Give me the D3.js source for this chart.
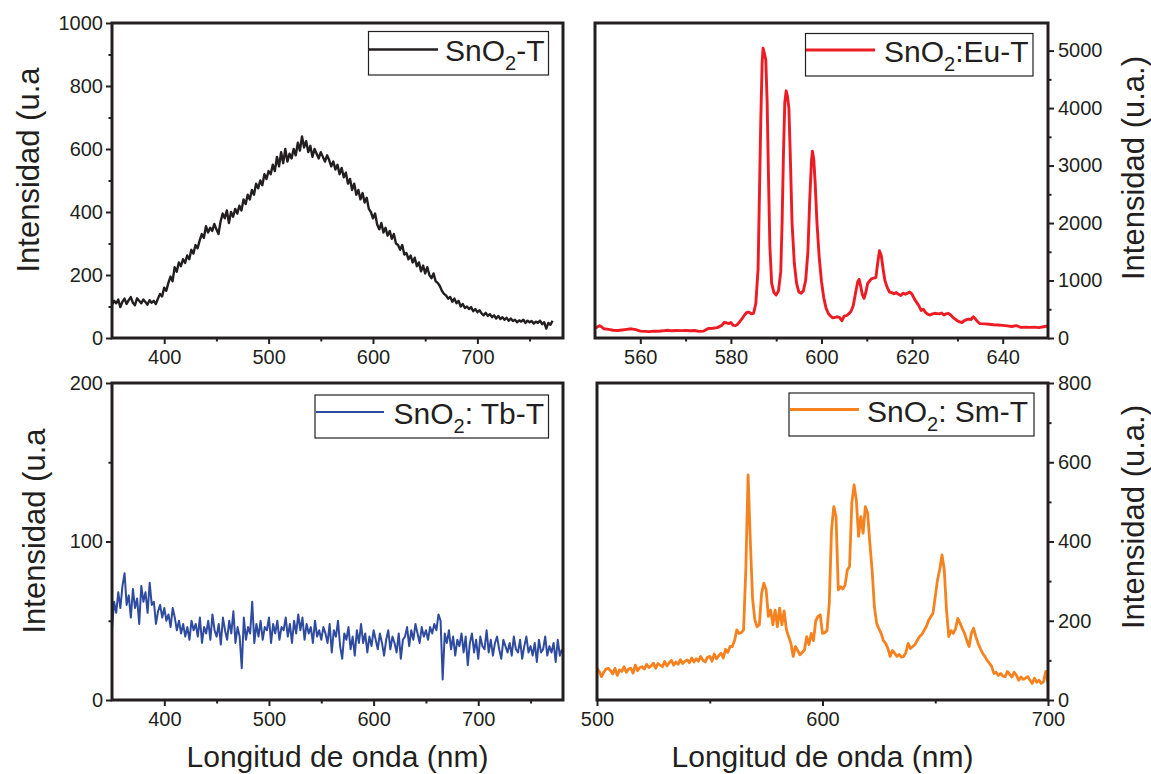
<!DOCTYPE html>
<html><head><meta charset="utf-8">
<script src="https://cdn.jsdelivr.net/npm/d3@7"></script>
<style>
body{margin:0;background:#fff;}
svg text{font-family:"Liberation Sans",Arial,Helvetica,sans-serif;fill:#231f20;}
</style></head><body>
<svg id="chart" width="1151" height="774"></svg>
<script>
// ---------------- DATA ----------------
// SnO2-T (350..772 nm, 2 nm step)
const tStart = 350, tStep = 2;
const sno2T = [
105,118,110,122,98,115,125,108,120,130,
112,104,126,118,110,122,114,106,120,112,
118,108,125,140,132,160,150,175,195,180,
225,210,240,228,250,238,262,250,280,268,
295,285,310,330,318,355,335,350,340,362,
345,330,370,395,380,405,365,400,385,410,
395,420,405,440,425,455,440,470,455,490,
475,500,485,520,505,530,520,550,530,575,
545,590,555,600,560,585,570,600,580,620,
595,640,605,625,590,610,575,600,585,570,
590,575,560,580,565,545,560,535,550,520,
540,510,525,490,505,470,490,455,470,440,
460,430,445,410,400,380,395,360,345,365,
335,350,325,340,315,330,300,295,280,295,
265,270,250,262,240,255,228,240,212,230,
205,225,200,190,205,180,175,165,150,140,
135,125,130,115,125,110,118,100,108,95,
100,92,98,85,92,82,88,78,72,80,
70,76,66,72,62,70,60,66,58,64,
55,62,54,58,50,56,52,58,48,55,
50,54,46,52,48,55,44,50,30,48,
42,55];

// SnO2:Eu-T
const euWavelength = [
550,550.5,551,551.5,552,553,554,555,556,557,
558,559,560,561,562,563,564,565,566,567,
568,569,570,571,572,573,574,575,576,577,
578,578.5,579,579.5,580,580.5,581,581.5,582,582.5,
583,583.5,584,584.5,585,585.5,586,586.3,586.6,586.9,
587.1,587.4,587.7,588,588.3,588.6,589,589.5,590,590.5,
591,591.3,591.6,591.9,592.2,592.5,592.8,593.1,593.5,594,
594.5,595,595.5,596,596.5,597,597.4,597.8,598,598.3,
598.6,599,599.5,600,600.5,601,601.5,602,602.5,603,
603.5,604,604.5,605,605.5,606,606.5,607,607.5,608,
608.3,608.6,609,609.4,609.8,610.2,610.6,611,611.5,612,
612.4,612.8,613.2,613.6,614,614.5,615,615.5,616,616.5,
617,617.5,618,618.5,619,619.5,620,620.5,621,621.5,
622,622.5,623,623.5,624,624.5,625,625.5,626,626.5,
627,627.5,628,628.5,629,629.5,630,630.5,631,631.5,
632,632.5,633,633.5,634,634.5,635,636,637,638,
639,640,641,642,643,643.5,644,645,646,647,
648,649,650];
const euIntensity = [
175,190,215,190,160,150,135,130,140,150,
160,145,120,115,110,120,118,125,135,125,
130,128,132,125,130,115,120,165,170,180,
220,270,265,250,270,220,215,240,290,340,
400,445,450,420,430,600,1200,2500,3800,4800,
5040,4950,4840,4100,2800,1600,950,790,750,820,
1150,2000,3200,4100,4300,4200,4000,3200,2000,1300,
950,800,780,820,1000,1500,2400,3100,3250,3100,
2700,2000,1400,980,700,520,430,380,350,360,
370,355,300,380,390,420,460,560,780,980,
1020,920,760,690,800,950,990,1030,1040,1050,
1300,1520,1430,1200,1000,880,800,790,770,790,
760,740,780,760,780,800,760,680,620,560,
480,500,440,410,400,420,430,425,420,435,
400,420,430,400,360,330,300,280,270,300,
320,330,320,370,330,280,250,245,240,230,
225,220,210,200,215,200,185,190,185,190,
180,195,210];

// SnO2:Tb-T (350..780 nm, 2 nm step)
const tbStart = 350, tbStep = 2;
const sno2Tb = [
45,62,55,68,58,72,80,60,66,52,
70,58,64,48,72,62,68,55,74,60,
62,48,56,60,52,58,50,54,46,58,
52,44,50,42,48,40,46,38,50,44,
48,40,52,36,46,42,50,38,54,44,
40,48,35,52,44,38,50,42,56,36,
46,40,20,52,38,46,42,62,36,48,
40,50,38,46,44,52,36,48,42,50,
38,46,44,52,40,48,36,50,42,54,
44,52,38,48,42,46,36,50,40,44,
38,46,42,36,48,30,44,40,50,34,
26,42,38,46,32,40,28,44,36,48,
36,42,30,40,34,44,38,32,42,36,
28,38,44,32,40,36,30,42,26,38,
40,46,34,44,38,48,42,36,46,40,
44,38,46,42,48,44,54,50,13,42,
36,44,32,40,28,38,34,42,30,40,
22,36,42,30,38,26,40,34,32,44,
30,38,28,36,40,32,26,38,34,30,
36,28,40,32,30,38,26,34,40,30,
34,28,36,24,38,30,32,40,28,34,
30,36,24,38,28,32];

// SnO2:Sm-T (500..700 nm, 1 nm step)
const smStart = 500, smStep = 1;
const sno2Sm = [
80,72,59,70,78,80,74,66,80,62,
76,72,84,70,78,80,68,88,74,82,
84,78,90,82,86,93,80,92,88,84,
97,86,94,100,88,96,90,102,92,98,
101,94,106,96,104,98,110,100,96,108,
110,98,116,104,112,118,106,128,120,135,
135,150,177,168,170,177,330,568,400,255,
202,185,190,269,295,278,211,227,190,227,
185,232,190,225,177,160,143,110,135,125,
114,120,126,160,140,168,150,200,211,215,
168,170,175,244,429,488,463,278,286,280,
290,328,337,497,543,505,413,463,421,488,
472,396,328,236,194,180,168,150,143,130,
110,125,118,110,115,108,110,120,143,130,
135,140,150,160,165,175,185,200,210,219,
261,303,330,366,328,227,160,175,168,180,
206,194,180,168,150,135,168,181,160,143,
130,118,110,100,93,85,67,70,62,67,
60,59,72,65,58,70,62,50,58,52,
55,59,50,42,55,45,50,42,46,72,
42];

// tick values
const p1XMajor = [400,500,600,700], p1XMinor = [450,550,650,750];
const p1YMajor = [0,200,400,600,800,1000], p1YMinor = [100,300,500,700,900];
const p2XMajor = [560,580,600,620,640], p2XMinor = [570,590,610,630];
const p2YMajor = [0,1000,2000,3000,4000,5000], p2YMinor = [500,1500,2500,3500,4500];
const p3XMajor = [400,500,600,700], p3XMinor = [450,550,650,750];
const p3YMajor = [0,100,200], p3YMinor = [50,150];
const p4XMajor = [500,600,700], p4XMinor = [550,650];
const p4YMajor = [0,200,400,600,800], p4YMinor = [100,300,500,700];

// legend names (main, subscript, rest)
const legendNames = [["SnO","2","-T"],["SnO","2",":Eu-T"],["SnO","2",": Tb-T"],["SnO","2",": Sm-T"]];
const xTitle = "Longitud de onda (nm)";
const yTitleLeft = "Intensidad (u.a";
const yTitleRight = "Intensidad (u.a.)";

// ---------------- DRAW ----------------
const ink = "#231f20";
const svg = d3.select("#chart");

const panels = [
 {id:1, data: sno2T.map((v,i)=>[tStart+i*tStep, v]), color:"#231f20", lw:2.4,
  left:112, right:563, top:23, bottom:338, xDomain:[350,782], yDomain:[0,1000],
  xMajor:p1XMajor, xMinor:p1XMinor, yMajor:p1YMajor, yMinor:p1YMinor, ySide:"left",
  legend:{x0:368.5,x1:548.5,y0:31.5,y1:75,lineY:49.5,lx0:369,lx1:438,tx:445,ty:61},
  name:legendNames[0], yTitle:yTitleLeft, yTitleX:28, yTitleY:170, xTitleShow:false},
 {id:2, data: euWavelength.map((w,i)=>[w, euIntensity[i]]), color:"#ed1c24", lw:2.9,
  left:595, right:1048, top:23, bottom:338, xDomain:[550,650], yDomain:[0,5480],
  xMajor:p2XMajor, xMinor:p2XMinor, yMajor:p2YMajor, yMinor:p2YMinor, ySide:"right",
  legend:{x0:805.5,x1:1033,y0:33.5,y1:76,lineY:50,lx0:806,lx1:875,tx:884,ty:62},
  name:legendNames[1], yTitle:yTitleRight, yTitleX:1133, yTitleY:168, xTitleShow:false},
 {id:3, data: sno2Tb.map((v,i)=>[tbStart+i*tbStep, v]), color:"#2e4b9f", lw:2,
  left:112, right:563, top:383, bottom:700, xDomain:[350,781], yDomain:[0,200],
  xMajor:p3XMajor, xMinor:p3XMinor, yMajor:p3YMajor, yMinor:p3YMinor, ySide:"left",
  legend:{x0:315,x1:548.5,y0:395,y1:438,lineY:412,lx0:316,lx1:384,tx:393.5,ty:423.5},
  name:legendNames[2], yTitle:yTitleLeft, yTitleX:34, yTitleY:531, xTitleShow:true},
 {id:4, data: sno2Sm.map((v,i)=>[smStart+i*smStep, v]), color:"#f6821f", lw:2.8,
  left:597, right:1048, top:383, bottom:700, xDomain:[500,700], yDomain:[0,800],
  xMajor:p4XMajor, xMinor:p4XMinor, yMajor:p4YMajor, yMinor:p4YMinor, ySide:"right",
  legend:{x0:789,x1:1034,y0:393,y1:436,lineY:409.5,lx0:790,lx1:859,tx:867,ty:422},
  name:legendNames[3], yTitle:yTitleRight, yTitleX:1133, yTitleY:517, xTitleShow:true}
];

function styleAxis(g){
  g.select(".domain").remove();
  g.selectAll(".tick line").attr("stroke", ink).attr("stroke-width", 2);
  g.selectAll(".tick text").attr("fill", ink).style("font-size","20px")
    .style("font-family",'"Liberation Sans",Arial,sans-serif');
}

panels.forEach(p => {
  const g = svg.append("g");
  const x = d3.scaleLinear().domain(p.xDomain).range([p.left, p.right]);
  const y = d3.scaleLinear().domain(p.yDomain).range([p.bottom, p.top]);

  svg.append("clipPath").attr("id","clip"+p.id).append("rect")
    .attr("x",p.left).attr("y",p.top).attr("width",p.right-p.left).attr("height",p.bottom-p.top);

  g.append("path").datum(p.data)
    .attr("clip-path",`url(#clip${p.id})`)
    .attr("fill","none").attr("stroke",p.color).attr("stroke-width",p.lw)
    .attr("stroke-linejoin","round")
    .attr("d", d3.line().x(d=>x(d[0])).y(d=>y(d[1])));

  // x axis
  const gx = g.append("g").attr("transform",`translate(0,${p.bottom})`)
    .call(d3.axisBottom(x).tickValues(p.xMajor).tickSize(6).tickPadding(6).tickFormat(d3.format("d")));
  styleAxis(gx);
  const gxm = g.append("g").attr("transform",`translate(0,${p.bottom})`)
    .call(d3.axisBottom(x).tickValues(p.xMinor).tickSize(3.5).tickFormat(""));
  styleAxis(gxm);

  // y axis
  if (p.ySide === "left") {
    const gy = g.append("g").attr("transform",`translate(${p.left},0)`)
      .call(d3.axisLeft(y).tickValues(p.yMajor).tickSize(6).tickPadding(3).tickFormat(d3.format("d")));
    styleAxis(gy);
    const gym = g.append("g").attr("transform",`translate(${p.left},0)`)
      .call(d3.axisLeft(y).tickValues(p.yMinor).tickSize(3.5).tickFormat(""));
    styleAxis(gym);
  } else {
    const gy = g.append("g").attr("transform",`translate(${p.right},0)`)
      .call(d3.axisRight(y).tickValues(p.yMajor).tickSize(6).tickPadding(4).tickFormat(d3.format("d")));
    styleAxis(gy);
    const gym = g.append("g").attr("transform",`translate(${p.right},0)`)
      .call(d3.axisRight(y).tickValues(p.yMinor).tickSize(3.5).tickFormat(""));
    styleAxis(gym);
  }

  // frame
  g.append("rect").attr("x",p.left).attr("y",p.top)
    .attr("width",p.right-p.left).attr("height",p.bottom-p.top)
    .attr("fill","none").attr("stroke",ink).attr("stroke-width",3);

  // legend
  const L = p.legend;
  g.append("rect").attr("x",L.x0).attr("y",L.y0).attr("width",L.x1-L.x0).attr("height",L.y1-L.y0)
    .attr("fill","#fff").attr("stroke",ink).attr("stroke-width",1.2);
  g.append("line").attr("x1",L.lx0).attr("x2",L.lx1).attr("y1",L.lineY).attr("y2",L.lineY)
    .attr("stroke",p.color).attr("stroke-width",p.lw);
  const t = g.append("text").attr("x",L.tx).attr("y",L.ty).style("font-size","30px");
  t.append("tspan").text(p.name[0]);
  t.append("tspan").attr("dy",9).style("font-size","20px").text(p.name[1]);
  t.append("tspan").attr("dy",-9).text(p.name[2]);

  // y title
  g.append("text").attr("transform",`translate(${p.yTitleX},${p.yTitleY}) rotate(-90)`)
    .attr("text-anchor","middle").attr("dy","0.36em").style("font-size","31px").text(p.yTitle);

  if (p.xTitleShow) {
    g.append("text").attr("x",(p.left+p.right)/2).attr("y",767)
      .attr("text-anchor","middle").style("font-size","30px").text(xTitle);
  }
});
</script>
</body></html>
